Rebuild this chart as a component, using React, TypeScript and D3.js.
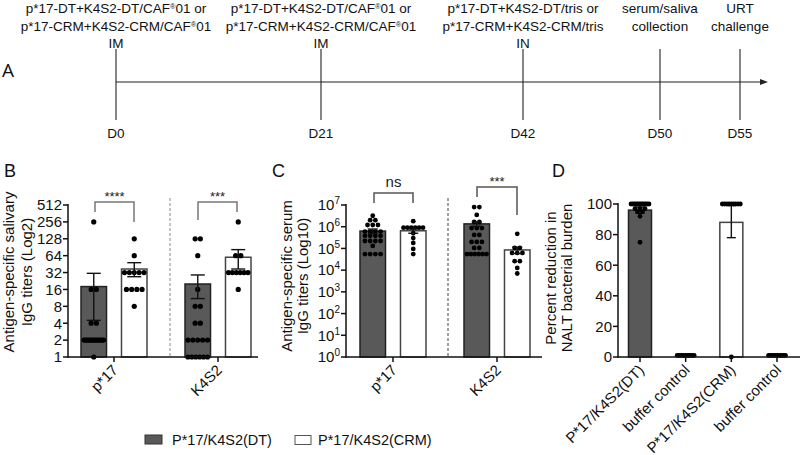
import React from "react";
import * as d3 from "d3";

const W = 800;
const H = 455;
const FONT = "'Liberation Sans', Arial, sans-serif";
const TFONT = "'Open Sans', sans-serif";
const DT_FILL = "#595959";
const INK = "#111";

// ---------- Panel A: timeline ----------
const timelineDays = [0, 21, 42, 50, 55];
const timelineDayLabels = ["D0", "D21", "D42", "D50", "D55"];
const timelineRoutes = ["IM", "IM", "IN", "", ""];
const timelineTop = [
  "p*17-DT+K4S2-DT/CAF®01 or",
  "p*17-DT+K4S2-DT/CAF®01 or",
  "p*17-DT+K4S2-DT/tris or",
  "serum/saliva",
  "URT",
];
const timelineBottom = [
  "p*17-CRM+K4S2-CRM/CAF®01",
  "p*17-CRM+K4S2-CRM/CAF®01",
  "p*17-CRM+K4S2-CRM/tris",
  "collection",
  "challenge",
];

// ---------- Panel B: salivary IgG (log2) ----------
const bCategories = ["p*17", "K4S2"];
const bTicks = [1, 2, 4, 8, 16, 32, 64, 128, 256, 512];
const bMeanDT = [18, 20];
const bLowDT = [4.5, 11];
const bHighDT = [31, 29];
const bMeanCRM = [37, 60];
const bLowCRM = [27, 37];
const bHighCRM = [48, 82];
const bDotsDT = [
  [256, 16, 16, 4, 4, 2, 2, 2, 2, 2, 2, 2, 2, 2, 2, 2, 2, 2, 2, 1],
  [128, 128, 64, 16, 8, 8, 4, 4, 2, 2, 2, 2, 2, 1, 1, 1, 1, 1, 1],
];
const bDotsCRM = [
  [128, 64, 32, 32, 32, 32, 32, 16, 16, 16, 16, 8],
  [256, 64, 64, 32, 32, 32, 32, 32, 32, 16],
];
const bSig = ["****", "***"];

// ---------- Panel C: serum IgG (log10) ----------
const cCategories = ["p*17", "K4S2"];
const cTickExps = [0, 1, 2, 3, 4, 5, 6, 7];
const cMeanDT = [6.3e5, 1.35e6];
const cLowDT = [4.8e5, 1.05e6];
const cHighDT = [7.8e5, 1.65e6];
const cMeanCRM = [6.5e5, 8.5e4];
const cLowCRM = [5.0e5, 5.8e4];
const cHighCRM = [8.0e5, 1.15e5];
const cDotsDT = [
  [3.2e6, 2e6, 2e6, 1.2e6, 1.2e6, 1.2e6, 6e5, 6e5, 6e5, 6e5, 3.8e5, 3.8e5, 3.8e5, 3.8e5, 2.2e5, 2.2e5, 2.2e5, 2.2e5, 1.3e5, 5.5e4, 5.5e4, 5.5e4, 5.5e4],
  [8e6, 8e6, 3.5e6, 1.65e6, 1.65e6, 8.7e5, 8.7e5, 8.7e5, 4.2e5, 4.2e5, 2e5, 2e5, 2e5, 1.05e5, 1.05e5, 5.5e4, 5.5e4, 5.5e4, 5.5e4, 5.5e4, 5.5e4],
];
const cDotsCRM = [
  [1.8e6, 9e5, 9e5, 9e5, 9e5, 9e5, 9e5, 5e5, 3e5, 1.8e5, 9.5e4, 5.5e4],
  [4.7e5, 1.05e5, 1.05e5, 6.2e4, 6.2e4, 6.2e4, 2.6e4, 2.6e4, 1.26e4, 7e3],
];
const cSig = ["ns", "***"];

// ---------- Panel D: NALT reduction ----------
const dCategoryLabels = ["P*17/K4S2(DT)", "buffer control", "P*17/K4S2(CRM)", "buffer control"];
const dGroupKind = ["DT", "none", "CRM", "none"];
const dTicks = [0, 20, 40, 60, 80, 100];
const dMeans = [96, 1, 88, 1];
const dLows = [94, NaN, 78, NaN];
const dHighs = [98, NaN, 99, NaN];
const dDots = [
  [100, 100, 100, 100, 100, 100, 100, 100, 100, 100, 100, 100, 97, 97, 97, 95, 95, 92, 75],
  [1, 1, 1, 1, 1, 1, 1, 1, 1, 1, 1],
  [100, 100, 100, 100, 100, 100, 100, 100, 100, 0],
  [1, 1, 1, 1, 1, 1, 1, 1, 1, 1, 1],
];

const legendLabels = ["P*17/K4S2(DT)", "P*17/K4S2(CRM)"];

// ---------- helpers ----------
function withSup(s: string) {
  const parts = s.split("®");
  const out: any[] = [];
  parts.forEach((p, i) => {
    out.push(
      <tspan key={"p" + i} dy={i > 0 ? 4 : undefined}>
        {p}
      </tspan>
    );
    if (i < parts.length - 1)
      out.push(
        <tspan key={"s" + i} fontSize={7.5} dy={-4}>
          ®
        </tspan>
      );
  });
  return out;
}

function layoutDots(values: number[], cx: number, y: (v: number) => number, maxSpan: number, gap: number) {
  const rows = d3.rollups(values, (v) => v.length, (d) => d);
  const out: { x: number; y: number }[] = [];
  rows.forEach(([v, k]) => {
    const s = k > 1 ? Math.min(gap, maxSpan / (k - 1)) : 0;
    for (let i = 0; i < k; i++) out.push({ x: cx + (i - (k - 1) / 2) * s, y: y(v) });
  });
  return out;
}

function ErrBar({ x, lo, hi, cw, color = "#111" }: any) {
  return (
    <g stroke={color} strokeWidth={1.4}>
      <line x1={x} x2={x} y1={lo} y2={hi} />
      <line x1={x - cw / 2} x2={x + cw / 2} y1={lo} y2={lo} />
      <line x1={x - cw / 2} x2={x + cw / 2} y1={hi} y2={hi} />
    </g>
  );
}

function GroupedPanel(props: any) {
  const { cats, xRange, y, base, meanDT, lowDT, highDT, meanCRM, lowCRM, highCRM, dotsDT, dotsCRM, cw, r } = props;
  const x = d3.scalePoint<string>().domain(cats).range(xRange);
  const sub = d3.scaleBand<string>().domain(["DT", "CRM"]).range([-33, 33]).paddingInner(0.37);
  const bw = sub.bandwidth();
  const groups = [
    { key: "DT", mean: meanDT, low: lowDT, high: highDT, dots: dotsDT, fill: DT_FILL, stroke: "#222" },
    { key: "CRM", mean: meanCRM, low: lowCRM, high: highCRM, dots: dotsCRM, fill: "#fff", stroke: "#444" },
  ];
  return (
    <g>
      {cats.map((c: string, i: number) =>
        groups.map((g) => {
          const x0 = (x(c) as number) + (sub(g.key) as number);
          const cx = x0 + bw / 2;
          const dots = layoutDots(g.dots[i], cx, y, bw - 6, 5.2);
          return (
            <g key={c + g.key}>
              <rect x={x0} y={y(g.mean[i])} width={bw} height={base - y(g.mean[i])} fill={g.fill} stroke={g.stroke} strokeWidth={1.5} />
              {dots.map((d, j) => (
                <circle key={j} cx={d.x} cy={d.y} r={r} fill="#000" />
              ))}
              <ErrBar x={cx} lo={y(g.low[i])} hi={y(g.high[i])} cw={cw} />
            </g>
          );
        })
      )}
    </g>
  );
}

function Bracket({ x1, x2, top, l1, l2, label, labelY, fs, color }: any) {
  return (
    <g>
      <path d={`M${x1},${l1}V${top}H${x2}V${l2}`} fill="none" stroke={color} strokeWidth={1.5} />
      <text x={(x1 + x2) / 2} y={labelY} textAnchor="middle" fontSize={fs} fontFamily={FONT} fill="#222">
        {label}
      </text>
    </g>
  );
}

export default function App() {
  // ---- A ----
  const xT = d3.scaleLinear().domain(timelineDays).range([116, 321, 523, 660, 740]);

  // ---- B ----
  const yB = d3.scaleLog().base(2).domain([1, 512]).range([357, 205]);
  const xB = d3.scalePoint<string>().domain(bCategories).range([114, 218]);
  // ---- C ----
  const yC = d3.scaleLog().domain([1, 1e7]).range([357, 205]);
  const xC = d3.scalePoint<string>().domain(cCategories).range([393, 497]);
  // ---- D ----
  const yD = d3.scaleLinear().domain([0, 100]).range([357, 204]);
  const xD = d3.scalePoint<number>().domain([0, 1, 2, 3]).range([640, 777]);
  const dBW = 23;

  const catLabel = (x: number, y: number, t: string, k: string) => (
    <text key={k} transform={`translate(${x + 5},${y + 14}) rotate(-45)`} textAnchor="end" fontSize={15} fontFamily={FONT} fill={INK}>
      {t}
    </text>
  );

  return (
    <svg width={W} height={H} style={{ position: "absolute", left: 0, top: 0, background: "#fff" }}>
      <rect width={W} height={H} fill="#fff" />
      {/* ================= A ================= */}
      <text x={2} y={77} fontSize={19} fontFamily={TFONT} fill={INK}>
        A
      </text>
      <line x1={xT(0)} x2={764} y1={82} y2={82} stroke="#222" strokeWidth={1.1} />
      <path d="M768,82 L760,79 L760,85 Z" fill="#222" />
      {timelineDays.map((d, i) => {
        const x = xT(d);
        return (
          <g key={"ev" + i} fontFamily={FONT} fontSize={13.5} fill={INK} textAnchor="middle">
            <line x1={x} x2={x} y1={49} y2={120} stroke="#222" strokeWidth={1.1} />
            <text x={x} y={12.8}>{withSup(timelineTop[i])}</text>
            <text x={x} y={30.5}>{withSup(timelineBottom[i])}</text>
            {timelineRoutes[i] && (
              <text x={x} y={48}>
                {timelineRoutes[i]}
              </text>
            )}
            <text x={x} y={138}>
              {timelineDayLabels[i]}
            </text>
          </g>
        );
      })}

      {/* ================= B ================= */}
      <text x={4} y={177} fontSize={18} fontFamily={FONT} fill={INK}>
        B
      </text>
      <g transform="translate(14,272) rotate(-90)" fontSize={15} fontFamily={FONT} fill={INK} textAnchor="middle">
        <text>Antigen-specific salivary</text>
        <text y={17.5}>IgG titers (Log2)</text>
      </g>
      <line x1={170} x2={170} y1={198} y2={357} stroke="#888" strokeWidth={1} strokeDasharray="3,2" />
      <GroupedPanel
        cats={bCategories}
        xRange={[114, 218]}
        y={yB}
        base={357}
        meanDT={bMeanDT}
        lowDT={bLowDT}
        highDT={bHighDT}
        meanCRM={bMeanCRM}
        lowCRM={bLowCRM}
        highCRM={bHighCRM}
        dotsDT={bDotsDT}
        dotsCRM={bDotsCRM}
        cw={14}
        r={2.6}
      />
      <g stroke="#111" strokeWidth={1.5}>
        <line x1={68} x2={68} y1={204} y2={357.75} />
        <line x1={67.25} x2={258} y1={357} y2={357} />
        {bTicks.map((t) => (
          <line key={t} x1={63} x2={68} y1={yB(t)} y2={yB(t)} />
        ))}
        {bCategories.map((c) => (
          <line key={c} x1={xB(c)} x2={xB(c)} y1={357} y2={362} />
        ))}
      </g>
      {bTicks.map((t) => (
        <text key={t} x={62} y={yB(t) + 5.3} textAnchor="end" fontSize={15} fontFamily={FONT} fill={INK}>
          {t}
        </text>
      ))}
      {bCategories.map((c) => catLabel(xB(c) as number, 357, c, "bl" + c))}
      <Bracket x1={95} x2={134} top={202} l1={212} l2={222} label={bSig[0]} labelY={201} fs={13} color="#777" />
      <Bracket x1={198} x2={237} top={202} l1={220} l2={212} label={bSig[1]} labelY={201} fs={13} color="#777" />

      {/* ================= C ================= */}
      <text x={272} y={177} fontSize={18} fontFamily={FONT} fill={INK}>
        C
      </text>
      <g transform="translate(292,276) rotate(-90)" fontSize={15} fontFamily={FONT} fill={INK} textAnchor="middle">
        <text>Antigen-specific serum</text>
        <text y={16}>IgG titers (Log10)</text>
      </g>
      <line x1={448} x2={448} y1={198} y2={357} stroke="#444" strokeWidth={1} strokeDasharray="3,2" />
      <GroupedPanel
        cats={cCategories}
        xRange={[393, 497]}
        y={yC}
        base={357}
        meanDT={cMeanDT}
        lowDT={cLowDT}
        highDT={cHighDT}
        meanCRM={cMeanCRM}
        lowCRM={cLowCRM}
        highCRM={cHighCRM}
        dotsDT={cDotsDT}
        dotsCRM={cDotsCRM}
        cw={10}
        r={2.4}
      />
      <g stroke="#111" strokeWidth={1.5}>
        <line x1={346} x2={346} y1={204} y2={357.75} />
        <line x1={345.25} x2={542} y1={357} y2={357} />
        {cTickExps.map((e) => (
          <line key={e} x1={341} x2={346} y1={yC(Math.pow(10, e))} y2={yC(Math.pow(10, e))} />
        ))}
        {cCategories.map((c) => (
          <line key={c} x1={xC(c)} x2={xC(c)} y1={357} y2={362} />
        ))}
      </g>
      {cTickExps.map((e) => (
        <text key={e} x={340} y={yC(Math.pow(10, e)) + 5.3} textAnchor="end" fontSize={15} fontFamily={FONT} fill={INK}>
          10
          <tspan fontSize={10} dy={-6}>
            {e}
          </tspan>
        </text>
      ))}
      {cCategories.map((c) => catLabel(xC(c) as number, 357, c, "cl" + c))}
      <Bracket x1={374} x2={413} top={193} l1={203} l2={203} label={cSig[0]} labelY={187} fs={15} color="#555" />
      <Bracket x1={477} x2={517} top={187} l1={197} l2={215} label={cSig[1]} labelY={186} fs={13} color="#555" />

      {/* ================= D ================= */}
      <text x={552} y={177} fontSize={18} fontFamily={FONT} fill={INK}>
        D
      </text>
      <g transform="translate(556,278) rotate(-90)" fontSize={15} fontFamily={FONT} fill={INK} textAnchor="middle">
        <text>Percent reduction in</text>
        <text y={15.5}>NALT bacterial burden</text>
      </g>
      {dCategoryLabels.map((lab, i) => {
        const cx = xD(i) as number;
        const kind = dGroupKind[i];
        const dots = layoutDots(dDots[i], cx, yD, kind === "none" ? 17 : 18, 5);
        return (
          <g key={"d" + i}>
            {kind !== "none" && (
              <rect
                x={cx - dBW / 2}
                y={yD(dMeans[i])}
                width={dBW}
                height={357 - yD(dMeans[i])}
                fill={kind === "DT" ? DT_FILL : "#fff"}
                stroke={kind === "DT" ? "#222" : "#444"}
                strokeWidth={1.5}
              />
            )}
            {kind !== "none" && <ErrBar x={cx} lo={yD(dLows[i])} hi={yD(dHighs[i])} cw={9} />}
            {dots.map((d, j) => (
              <circle key={j} cx={d.x} cy={d.y} r={2.4} fill="#000" />
            ))}
          </g>
        );
      })}
      <g stroke="#111" strokeWidth={1.5}>
        <line x1={618} x2={618} y1={203} y2={357.75} />
        <line x1={617.25} x2={800} y1={357} y2={357} />
        {dTicks.map((t) => (
          <line key={t} x1={613} x2={618} y1={yD(t)} y2={yD(t)} />
        ))}
        {dCategoryLabels.map((c, i) => (
          <line key={i} x1={xD(i)} x2={xD(i)} y1={357} y2={362} />
        ))}
      </g>
      {dTicks.map((t) => (
        <text key={t} x={612} y={yD(t) + 5.3} textAnchor="end" fontSize={15} fontFamily={FONT} fill={INK}>
          {t}
        </text>
      ))}
      {dCategoryLabels.map((c, i) => catLabel(xD(i) as number, 357, c, "dl" + i))}

      {/* ================= Legend ================= */}
      <rect x={145} y={435} width={17} height={9} fill={DT_FILL} stroke="#333" strokeWidth={1} />
      <text x={172} y={445} fontSize={14.5} fontFamily={FONT} fill={INK}>
        {legendLabels[0]}
      </text>
      <rect x={295} y={435.5} width={16} height={9} fill="#fff" stroke="#555" strokeWidth={1} />
      <text x={318} y={445} fontSize={14.5} fontFamily={FONT} fill={INK}>
        {legendLabels[1]}
      </text>
    </svg>
  );
}
